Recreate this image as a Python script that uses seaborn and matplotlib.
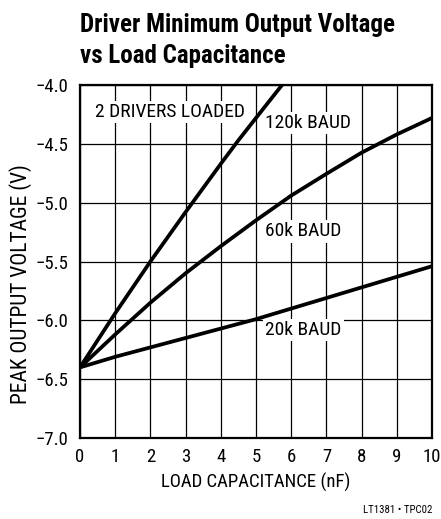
import pandas as pd
import matplotlib.pyplot as plt
import seaborn as sns

# Datos (nF, V)
cap_120k = [0, 1, 2, 3, 4, 4.5, 5, 5.74]
volt_120k = [-6.4, -5.94, -5.5, -5.08, -4.67, -4.47, -4.28, -4.0]

cap_60k = [0, 1, 2, 3, 4, 5, 6, 7, 8, 9, 10]
volt_60k = [-6.4, -6.12, -5.85, -5.6, -5.37, -5.15, -4.94, -4.755, -4.575, -4.42, -4.28]

cap_20k = [0, 1, 2, 3, 4, 5, 6, 7, 8, 9, 10]
volt_20k = [-6.4, -6.31, -6.23, -6.15, -6.07, -5.99, -5.90, -5.81, -5.72, -5.63, -5.54]

series = ['120k BAUD', '60k BAUD', '20k BAUD']
x_ticks = list(range(0, 11))
y_ticks = [-7.0, -6.5, -6.0, -5.5, -5.0, -4.5, -4.0]

df = pd.concat([
    pd.DataFrame({'cap': cap_120k, 'volt': volt_120k, 'serie': series[0]}),
    pd.DataFrame({'cap': cap_60k, 'volt': volt_60k, 'serie': series[1]}),
    pd.DataFrame({'cap': cap_20k, 'volt': volt_20k, 'serie': series[2]}),
])

sns.set_style('white')
plt.rcParams['font.family'] = ['Roboto Condensed', 'DejaVu Sans']
plt.rcParams['text.color'] = 'black'
plt.rcParams['axes.labelcolor'] = 'black'

fig = plt.figure(figsize=(4.41, 5.19), dpi=100)
ax = fig.add_axes([80 / 441, 81 / 519, 352 / 441, 353 / 519])

sns.lineplot(data=df, x='cap', y='volt', hue='serie', palette=['black'] * 3,
             linewidth=2.7, legend=False, ax=ax, estimator=None, sort=False,
             solid_capstyle='butt')

ax.set_xlim(0, 10)
ax.set_ylim(-7.0, -4.0)
ax.set_xticks(x_ticks)
ax.set_yticks(y_ticks)
ax.grid(True, color='black', linewidth=0.9)
ax.tick_params(axis='both', length=0, labelsize=13.5, colors='black')
ax.tick_params(axis='x', pad=7)
ax.tick_params(axis='y', pad=8)
for s in ax.spines.values():
    s.set_visible(True)
    s.set_color('black')
    s.set_linewidth(1.6)

ax.set_xlabel('LOAD CAPACITANCE (nF)', fontsize=13.5, labelpad=5)
ax.set_ylabel('PEAK OUTPUT VOLTAGE (V)', fontsize=15.5)
ax.yaxis.set_label_coords(-0.135, 0.436)

# Etiquetas con fondo blanco que cortan la rejilla
box = dict(facecolor='white', edgecolor='none', pad=1.5)
ax.text(0.43, -4.23, '2 DRIVERS LOADED', fontsize=14, ha='left', va='center', bbox=box)
ax.text(6.49, -4.32, '120k BAUD', fontsize=14, ha='center', va='center', bbox=box)
ax.text(6.35, -5.245, '60k BAUD', fontsize=14, ha='center', va='center', bbox=box)
ax.text(6.35, -6.08, '20k BAUD', fontsize=14, ha='center', va='center', bbox=box)

fig.text(80 / 441, 1 - 31.7 / 519, 'Driver Minimum Output Voltage',
         fontsize=18, fontweight='bold', ha='left', va='baseline')
fig.text(80 / 441, 1 - 63.3 / 519, 'vs Load Capacitance',
         fontsize=18, fontweight='bold', ha='left', va='baseline')
fig.text(432 / 441, 1 - 510 / 519, 'LT1381 • TPC02', fontsize=7.8, ha='right', va='center')

fig.savefig('out.png', dpi=100)
